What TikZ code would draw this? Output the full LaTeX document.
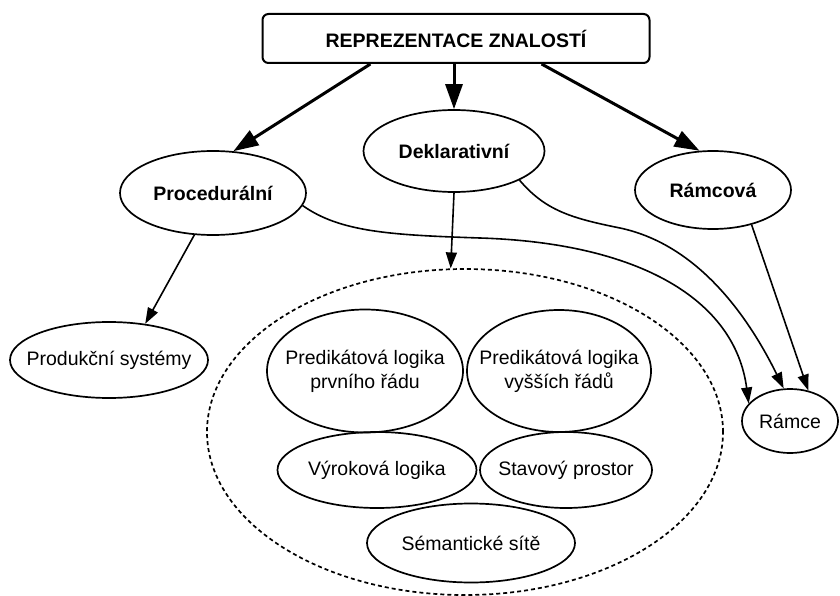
\documentclass[tikz,border=0pt]{standalone}
\usepackage{fontspec}
\setmainfont{Liberation Sans}
\usetikzlibrary{shapes.geometric,arrows.meta,calc}
\begin{document}
\begin{tikzpicture}[x=1pt,y=-1pt,
  every node/.style={font=\fontsize{19.5}{24}\selectfont, inner sep=0pt},
  % the outline has a fixed size; the text sits on top as a centred label
  oval/.style={ellipse, draw, line width=1.7pt,
    label={[align=center, inner sep=0pt]center:#1}},
  head/.style={ellipse, draw, line width=1.7pt,
    label={[inner sep=0pt, font=\fontsize{19.5}{24}\selectfont\bfseries]center:#1}},
  thickarrow/.style={line width=3pt, -{Triangle[length=25pt,width=17pt]}},
  thinarrow/.style={line width=1.6pt, -{Triangle[length=16pt,width=11pt]}},
]
\useasboundingbox (0,0) rectangle (840,596);

% title box
\node[draw, line width=2pt, rounded corners=6pt, minimum width=387pt, minimum height=49pt,
      font=\fontsize{19.5}{24}\selectfont\bfseries] (top) at (456,38.5) {REPREZENTACE ZNALOSTÍ};

% main categories
\node[head={Procedurální}, minimum width=186pt, minimum height=84pt] (proc) at (213,193) {};
\node[head={Deklarativní}, minimum width=181pt, minimum height=82pt] (dekl) at (454,151) {};
\node[head={Rámcová}, minimum width=156pt, minimum height=78pt] (ramcova) at (713,190) {};

% leaves
\node[oval={Produkční systémy}, minimum width=198pt, minimum height=76pt] (prod) at (109,360) {};
\node[oval={Rámce}, minimum width=96pt, minimum height=64pt] (ramce) at (790,421) {};

% declarative group
\node[ellipse, draw, line width=1.7pt, dash pattern=on 4pt off 3pt,
      minimum width=516pt, minimum height=326pt] (group) at (465,432) {};
\node[oval={Predikátová logika\\prvního řádu}, minimum width=196pt, minimum height=123pt] (pl1) at (365,371) {};
\node[oval={Predikátová logika\\vyšších řádů}, minimum width=184pt, minimum height=122pt] (pl2) at (559,371) {};
\node[oval={Výroková logika}, minimum width=199pt, minimum height=76pt] (vyrok) at (377,470) {};
\node[oval={Stavový prostor}, minimum width=172pt, minimum height=76pt] (stav) at (566,470) {};
\node[oval={Sémantické sítě}, minimum width=208pt, minimum height=79pt] (sem) at (471,543) {};

% thick arrows from the title
\draw[thickarrow] ($(top.south west)!0.28!(top.south east)$) -- (proc.64);
\draw[thickarrow] (top.south -| dekl.north) -- (dekl.north);
\draw[thickarrow] ($(top.south west)!0.72!(top.south east)$) -- (ramcova.109);

% thin arrows
\draw[thinarrow] (proc.-114) -- (prod.45);
\draw[thinarrow] (dekl.south) -- (group.95);
\draw[thinarrow] (ramcova.-42) -- (ramce.59);
\draw[thinarrow] (proc.-8) .. controls (340,232) and (390,235) .. (480,238)
  .. controls (640,243) and (735,300) .. (ramce.157);
\draw[thinarrow] (dekl.-24) .. controls (545,210) and (570,218) .. (620,228)
  .. controls (700,245) and (750,320) .. (ramce.101);
\end{tikzpicture}
\end{document}
